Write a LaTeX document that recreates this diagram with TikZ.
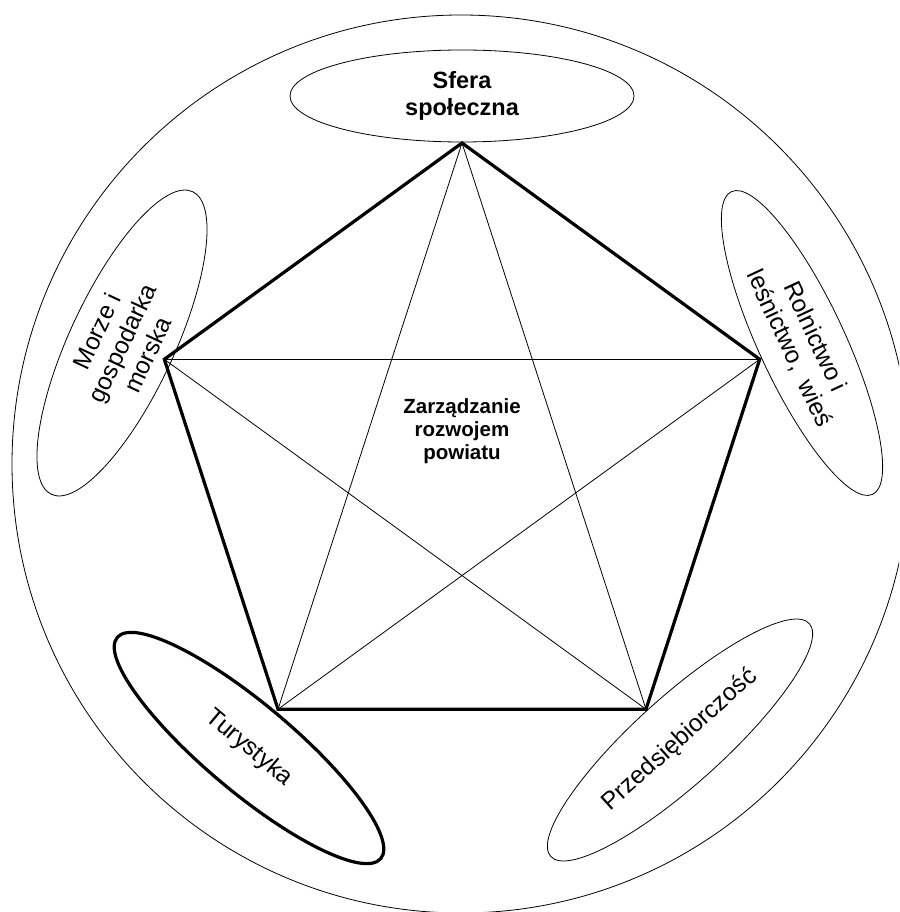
\documentclass[tikz,border=0pt]{standalone}
\usepackage{fontspec}
\setmainfont{Liberation Sans}
\usetikzlibrary{shapes.geometric}
\tikzset{
  thinline/.style={line width=0.8pt},
  thickline/.style={line width=3.2pt},
  sector/.style={ellipse, draw, thinline, inner sep=0pt, align=center,
    font=\fontsize{24.5}{28}\selectfont},
  boldlabel/.style={align=center, font=\bfseries\fontsize{23.5}{27}\selectfont},
  centerlabel/.style={align=center, font=\bfseries\fontsize{20.5}{23}\selectfont}
}
\begin{document}
\begin{tikzpicture}[x=1pt,y=-1pt]
\clip (0,0) rectangle (899,912);
\fill[white] (0,0) rectangle (899,912);
% outer circle
\node[circle, draw, thinline, minimum size=898pt, inner sep=0pt] (outer) at (461,464) {};
% pentagon vertices
\coordinate (T) at (462,143);
\coordinate (R) at (759.7,359.3);
\coordinate (BR) at (646,709.2);
\coordinate (BL) at (278,709.2);
\coordinate (L) at (164.3,359.3);
% sector ellipses
\node[sector, boldlabel, minimum width=344pt, minimum height=92pt] (sfera) at (462,96) {Sfera\\społeczna};
\node[sector, minimum width=334pt, minimum height=86pt, rotate=65] (morze) at (122,343) {Morze i\\gospodarka\\morska};
\node[sector, minimum width=334pt, minimum height=86pt, rotate=-65] (rol) at (802,343) {Rolnictwo i\\leśnictwo,\ \ wieś};
\node[sector, thickline, minimum width=344pt, minimum height=88pt, rotate=-40] (tur) at (249,748) {Turystyka};
\node[sector, minimum width=348pt, minimum height=88pt, rotate=42] (prz) at (680,740) {Przedsiębiorczość};
% diagonals
\draw[thinline] (T) -- (BL);
\draw[thinline] (T) -- (BR);
\draw[thinline] (L) -- (R);
\draw[thinline] (L) -- (BR);
\draw[thinline] (R) -- (BL);
% pentagon
\draw[thickline] (T) -- (R) -- (BR) -- (BL) -- (L) -- cycle;
% center
\node[centerlabel] (center) at (462,431) {Zarządzanie\\rozwojem\\powiatu};
\end{tikzpicture}
\end{document}
